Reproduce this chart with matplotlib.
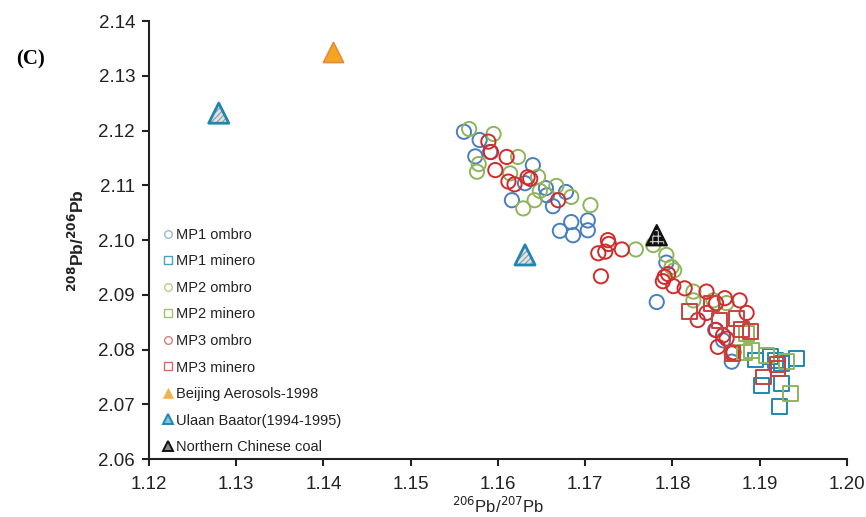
import matplotlib
matplotlib.use("Agg")
import matplotlib.pyplot as plt
from matplotlib.lines import Line2D

plt.rcParams['font.family'] = ['Liberation Sans', 'DejaVu Sans']
plt.rcParams['hatch.linewidth'] = 0.8

# ---- data ----
mp1_ombro_x = [1.1561, 1.1579, 1.1574, 1.1591, 1.1640, 1.1631, 1.1655, 1.1656, 1.1616, 1.1678,
               1.1663, 1.1684, 1.1703, 1.1671, 1.1686, 1.1703, 1.1782, 1.1793, 1.1849, 1.1858, 1.1868]
mp1_ombro_y = [2.1198, 2.1183, 2.1153, 2.1161, 2.1137, 2.1104, 2.1095, 2.1082, 2.1073, 2.1088,
               2.1062, 2.1033, 2.1036, 2.1017, 2.1009, 2.1018, 2.0887, 2.0959, 2.0836, 2.0817, 2.0778]

mp2_ombro_x = [1.1567, 1.1595, 1.1578, 1.1576, 1.1623, 1.1614, 1.1646, 1.1648, 1.1667, 1.1642,
               1.1629, 1.1684, 1.1706, 1.1758, 1.1778, 1.1793, 1.1799, 1.1802, 1.1824, 1.1824,
               1.1847, 1.1862]
mp2_ombro_y = [2.1203, 2.1194, 2.1139, 2.1125, 2.1152, 2.1122, 2.1116, 2.1090, 2.1099, 2.1073,
               2.1058, 2.1079, 2.1064, 2.0983, 2.0991, 2.0973, 2.0951, 2.0945, 2.0906, 2.0890,
               2.0890, 2.0885]

mp3_ombro_x = [1.1589, 1.1592, 1.1610, 1.1597, 1.1612, 1.1619, 1.1634, 1.1637, 1.1669, 1.1726,
               1.1715, 1.1723, 1.1727, 1.1742, 1.1718, 1.1791, 1.1795, 1.1789, 1.1801, 1.1814,
               1.1839, 1.1860, 1.1877, 1.1850, 1.1885, 1.1839, 1.1829, 1.1850, 1.1858, 1.1852,
               1.1862, 1.1868, 1.1870]
mp3_ombro_y = [2.1180, 2.1161, 2.1152, 2.1128, 2.1107, 2.1102, 2.1115, 2.1112, 2.1073, 2.1000,
               2.0976, 2.0979, 2.0993, 2.0983, 2.0934, 2.0933, 2.0938, 2.0925, 2.0916, 2.0912,
               2.0906, 2.0894, 2.0890, 2.0885, 2.0867, 2.0867, 2.0854, 2.0836, 2.0826, 2.0805,
               2.0820, 2.0793, 2.0795]

mp1_minero_x = [1.1895, 1.1912, 1.1925, 1.1942, 1.1902, 1.1925, 1.1923, 1.1918]
mp1_minero_y = [2.0781, 2.0787, 2.0775, 2.0784, 2.0735, 2.0738, 2.0696, 2.0780]

mp2_minero_x = [1.1885, 1.1891, 1.1883, 1.1908, 1.1931, 1.1935]
mp2_minero_y = [2.0830, 2.0799, 2.0794, 2.0790, 2.0778, 2.0720]

mp3_minero_x = [1.1820, 1.1845, 1.1854, 1.1873, 1.1879, 1.1889, 1.1869, 1.1904, 1.1921, 1.1920]
mp3_minero_y = [2.0869, 2.0884, 2.0854, 2.0857, 2.0836, 2.0833, 2.0793, 2.0750, 2.0766, 2.0772]

beijing_x = [1.1411]
beijing_y = [2.1343]
ulaan_x = [1.1280, 1.1631]
ulaan_y = [2.1232, 2.0973]
coal_x = [1.1782]
coal_y = [2.1009]

x_ticks = [1.12, 1.13, 1.14, 1.15, 1.16, 1.17, 1.18, 1.19, 1.20]
y_ticks = [2.06, 2.07, 2.08, 2.09, 2.10, 2.11, 2.12, 2.13, 2.14]

labels = ["MP1 ombro", "MP1 minero", "MP2 ombro", "MP2 minero", "MP3 ombro", "MP3 minero",
          "Beijing Aerosols-1998", "Ulaan Baator(1994-1995)", "Northern Chinese coal"]

# ---- colours ----
c_mp1o = '#4a7fbd'
c_mp1m = '#1e88b6'
c_mp2 = '#8fb55a'
c_mp3o = '#d22b2b'
c_mp3m = '#c8423d'

fig = plt.figure(figsize=(8.66, 5.17), dpi=100)
ax = fig.add_axes([0.172, 0.112, 0.806, 0.847])

ms = 105
lw = 1.4
ax.scatter(mp1_ombro_x, mp1_ombro_y, s=ms, marker='o', facecolors='none', edgecolors=c_mp1o, linewidths=lw, zorder=3)
ax.scatter(mp2_ombro_x, mp2_ombro_y, s=ms, marker='o', facecolors='none', edgecolors=c_mp2, linewidths=lw, zorder=3)
ax.scatter(mp3_ombro_x, mp3_ombro_y, s=ms, marker='o', facecolors='none', edgecolors=c_mp3o, linewidths=lw, zorder=3)
ax.scatter(mp1_minero_x, mp1_minero_y, s=ms*1.1, marker='s', facecolors='none', edgecolors=c_mp1m, linewidths=lw, zorder=3)
ax.scatter(mp2_minero_x, mp2_minero_y, s=ms*1.1, marker='s', facecolors='none', edgecolors=c_mp2, linewidths=lw, zorder=3)
ax.scatter(mp3_minero_x, mp3_minero_y, s=ms*1.1, marker='s', facecolors='none', edgecolors=c_mp3m, linewidths=lw, zorder=3)

tri = 210
ax.scatter(beijing_x, beijing_y, s=tri, marker='^', facecolors='#f7a521', edgecolors='#e08a3a', linewidths=1.2, zorder=4)
ax.scatter(ulaan_x, ulaan_y, s=tri, marker='^', facecolors='#dfe3e6', edgecolors='#8e9aa3', hatch='//////', linewidths=0, zorder=4)
ax.scatter(ulaan_x, ulaan_y, s=tri, marker='^', facecolors='none', edgecolors='#1f86ae', linewidths=2.0, zorder=5)
ax.scatter(coal_x, coal_y, s=tri, marker='^', facecolors='#111111', edgecolors='#cfcfcf', hatch='+++', linewidths=0, zorder=4)
ax.scatter(coal_x, coal_y, s=tri, marker='^', facecolors='none', edgecolors='#111111', linewidths=1.6, zorder=5)

ax.set_xlim(1.12, 1.20)
ax.set_ylim(2.06, 2.14)
ax.set_xticks(x_ticks)
ax.set_yticks(y_ticks)
ax.set_xticklabels([f"{v:.2f}" for v in x_ticks])
ax.set_yticklabels([f"{v:.2f}" for v in y_ticks])
for s in ['top', 'right']:
    ax.spines[s].set_visible(False)
for s in ['left', 'bottom']:
    ax.spines[s].set_linewidth(1.5)
    ax.spines[s].set_color('#222222')
ax.tick_params(axis='both', direction='out', length=5, width=1.5, color='#222222',
               labelsize=13.5, labelcolor='#222222')
ax.tick_params(axis='x', pad=7)
ax.tick_params(axis='y', pad=5)

ax.set_xlabel(r'$^{206}$Pb/$^{207}$Pb', fontsize=12, color='#222222', labelpad=2)
ax.set_ylabel(r'$^{\mathbf{208}}$Pb/$^{\mathbf{206}}$Pb', fontsize=12.5, fontweight='bold', color='#222222', labelpad=8)

fig.text(0.035, 0.884, '(C)', fontsize=15, fontweight='bold', family='Liberation Serif', ha='center', va='center')

lms = 5.5
handles = [
    Line2D([], [], ls='none', marker='o', ms=lms, mfc='none', mec='#9bb7d6', mew=1),
    Line2D([], [], ls='none', marker='s', ms=lms, mfc='none', mec='#4aa0c8', mew=1),
    Line2D([], [], ls='none', marker='o', ms=lms, mfc='none', mec='#b4cc8e', mew=1),
    Line2D([], [], ls='none', marker='s', ms=lms, mfc='none', mec='#9dbf78', mew=1),
    Line2D([], [], ls='none', marker='o', ms=lms, mfc='none', mec='#de7a7a', mew=1),
    Line2D([], [], ls='none', marker='s', ms=lms, mfc='none', mec='#d46a66', mew=1),
    Line2D([], [], ls='none', marker='^', ms=lms + 1, mfc='#f5b04c', mec='#f5b04c', mew=0.5),
    Line2D([], [], ls='none', marker='^', ms=lms + 1, mfc='#7fc3de', mec='#1f86ae', mew=1.4),
    Line2D([], [], ls='none', marker='^', ms=lms + 1, mfc='#888888', mec='#111111', mew=1.4),
]
leg = ax.legend(handles, labels, loc='lower left', bbox_to_anchor=(0.006, -0.012), frameon=False,
                fontsize=10.5, handlelength=0.6, handletextpad=0.3, labelspacing=0.86,
                borderaxespad=0.3, labelcolor='#222222')

fig.savefig('out.png', dpi=100)
